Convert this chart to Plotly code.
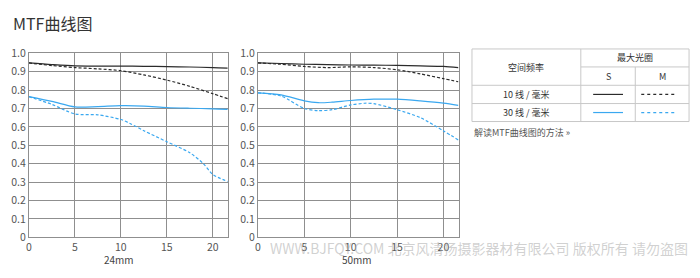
import plotly.graph_objects as go

W, H = 700, 278

# ---------------- data ----------------
x_24_s10 = [0, 2.5, 5, 7.5, 10, 12.5, 15, 17.5, 20, 21.6]
y_24_s10 = [0.947, 0.938, 0.931, 0.930, 0.930, 0.929, 0.927, 0.925, 0.922, 0.919]
x_24_m10 = [0, 2.5, 5, 7.5, 10, 12.5, 15, 17.5, 20, 21.6]
y_24_m10 = [0.947, 0.933, 0.922, 0.915, 0.905, 0.882, 0.854, 0.820, 0.780, 0.753]
x_24_s30 = [0, 2.5, 5, 7.5, 10, 12.5, 15, 17.5, 20, 21.6]
y_24_s30 = [0.764, 0.738, 0.708, 0.710, 0.715, 0.713, 0.705, 0.701, 0.698, 0.695]
x_24_m30 = [0, 2.5, 5, 7.5, 10, 11, 12.5, 15, 17.5, 19, 20, 21.6]
y_24_m30 = [0.764, 0.722, 0.670, 0.665, 0.640, 0.618, 0.579, 0.519, 0.459, 0.398, 0.341, 0.303]

x_50_s10 = [0, 2.5, 5, 7.5, 10, 12.5, 15, 17.5, 20, 21.6]
y_50_s10 = [0.947, 0.944, 0.940, 0.938, 0.936, 0.935, 0.934, 0.931, 0.928, 0.922]
x_50_m10 = [0, 2.5, 5, 7.5, 10, 12.5, 15, 17.5, 20, 21.6]
y_50_m10 = [0.947, 0.940, 0.928, 0.922, 0.926, 0.922, 0.910, 0.888, 0.862, 0.845]
x_50_s30 = [0, 2.5, 5, 6.5, 8, 10, 12.5, 15, 17.5, 20, 21.6]
y_50_s30 = [0.785, 0.774, 0.741, 0.731, 0.734, 0.743, 0.750, 0.750, 0.741, 0.729, 0.717]
x_50_m30 = [0, 2.5, 5, 6.5, 8, 10, 11.5, 12.5, 15, 17.5, 20, 21.6]
y_50_m30 = [0.785, 0.767, 0.700, 0.688, 0.693, 0.719, 0.728, 0.726, 0.693, 0.650, 0.578, 0.529]

x_ticks = [0, 5, 10, 15, 20]
y_ticks = [0, 0.1, 0.2, 0.3, 0.4, 0.5, 0.6, 0.7, 0.8, 0.9, 1.0]
y_tick_labels = ["0", "0.1", "0.2", "0.3", "0.4", "0.5", "0.6", "0.7", "0.8", "0.9", "1.0"]
panel_titles = ["24mm", "50mm"]

title_text = "MTF曲线图"
table_header_freq = "空间频率"
table_header_ap = "最大光圈"
table_cols = ["S", "M"]
table_rows = ["10 线 / 毫米", "30 线 / 毫米"]
link_text = "解读MTF曲线图的方法 »"
watermark = "WWW.BJFQY.COM 北京风清扬摄影器材有限公司 版权所有 请勿盗图"

BLACK = "#2b2b2b"
BLUE = "#3aa8f0"
FONT = "Noto Sans CJK SC, Open Sans, sans-serif"
DASH = "3px,2px"

def px(x):
    return x / W

def py(y):
    return 1 - y / H

fig = go.Figure()

series = [
    ("x", "y", x_24_s10, y_24_s10, BLACK, "solid"),
    ("x", "y", x_24_m10, y_24_m10, BLACK, DASH),
    ("x", "y", x_24_s30, y_24_s30, BLUE, "solid"),
    ("x", "y", x_24_m30, y_24_m30, BLUE, DASH),
    ("x2", "y2", x_50_s10, y_50_s10, BLACK, "solid"),
    ("x2", "y2", x_50_m10, y_50_m10, BLACK, DASH),
    ("x2", "y2", x_50_s30, y_50_s30, BLUE, "solid"),
    ("x2", "y2", x_50_m30, y_50_m30, BLUE, DASH),
]
for xa, ya, xs, ys, col, dash in series:
    fig.add_trace(go.Scatter(
        x=xs, y=ys, xaxis=xa, yaxis=ya, mode="lines",
        line=dict(color=col, width=1.2, dash=dash, shape="spline", smoothing=0.8),
        showlegend=False, hoverinfo="skip"))

ydom = [py(242.3), py(47.8)]
axis_common = dict(
    showgrid=True, gridcolor="#8f8f8f", gridwidth=1, zeroline=False,
    showline=True, linecolor="#8f8f8f", linewidth=1, mirror=True,
    ticks="", tickfont=dict(family=FONT, size=10.5, color="#555"),
)
fig.update_layout(
    width=W, height=H, margin=dict(l=0, r=0, t=0, b=0),
    paper_bgcolor="white", plot_bgcolor="white",
    xaxis=dict(domain=[px(26), px(226)], range=[0, 21.65], tickvals=x_ticks,
               anchor="y", **axis_common),
    yaxis=dict(domain=ydom, range=[0, 1.0], tickvals=y_ticks, ticktext=y_tick_labels,
               anchor="x", **axis_common),
    xaxis2=dict(domain=[px(256), px(457.7)], range=[0, 21.65], tickvals=x_ticks,
                anchor="y2", **axis_common),
    yaxis2=dict(domain=ydom, range=[0, 1.0], tickvals=y_ticks, ticktext=y_tick_labels,
                anchor="x2", **axis_common),
)

ann = []
ann.append(dict(text=title_text, x=px(8), y=py(16), xanchor="left", yanchor="middle",
                font=dict(family=FONT, size=16, color="#333")))
ann.append(dict(text=panel_titles[0], x=px(117), y=py(266), xanchor="center", yanchor="middle",
                font=dict(family=FONT, size=10, color="#444")))
ann.append(dict(text=panel_titles[1], x=px(356), y=py(266), xanchor="center", yanchor="middle",
                font=dict(family=FONT, size=10, color="#444")))
ann.append(dict(text=watermark, x=px(266), y=py(254), xanchor="left", yanchor="middle",
                font=dict(family=FONT, size=14, color="rgba(170,170,170,0.55)")))

# table
tx0, tx1 = 471, 689
ty = [43.3, 62.3, 81.7, 101, 120]
c1, c2 = 580.3, 635
tfont = dict(family=FONT, size=9, color="#333")
shapes = []
lc = "#c8c8c8"
def line(x0, y0, x1, y1, color=lc, width=1, dash="solid"):
    shapes.append(dict(type="line", xref="paper", yref="paper",
                       x0=px(x0), y0=py(y0), x1=px(x1), y1=py(y1),
                       line=dict(color=color, width=width, dash=dash)))
line(tx0, ty[0], tx1, ty[0])
line(tx0, ty[4], tx1, ty[4])
line(tx0, ty[0], tx0, ty[4])
line(tx1, ty[0], tx1, ty[4])
line(c1, ty[1], tx1, ty[1])
line(tx0, ty[2], tx1, ty[2])
line(tx0, ty[3], tx1, ty[3])
line(c1, ty[0], c1, ty[4])
line(c2, ty[1], c2, ty[4])

ann.append(dict(text=table_header_freq, x=px((tx0 + c1) / 2), y=py((ty[0] + ty[2]) / 2),
                xanchor="center", yanchor="middle", font=tfont))
ann.append(dict(text=table_header_ap, x=px((c1 + tx1) / 2), y=py((ty[0] + ty[1]) / 2),
                xanchor="center", yanchor="middle", font=tfont))
ann.append(dict(text=table_cols[0], x=px((c1 + c2) / 2), y=py((ty[1] + ty[2]) / 2),
                xanchor="center", yanchor="middle", font=tfont))
ann.append(dict(text=table_cols[1], x=px((c2 + tx1) / 2), y=py((ty[1] + ty[2]) / 2),
                xanchor="center", yanchor="middle", font=tfont))
for i, r in enumerate(table_rows):
    ann.append(dict(text=r, x=px((tx0 + c1) / 2), y=py((ty[2 + i] + ty[3 + i]) / 2),
                    xanchor="center", yanchor="middle", font=tfont))
for i, col in enumerate([BLACK, BLUE]):
    yy = (ty[2 + i] + ty[3 + i]) / 2
    line(592.7, yy, 622.7, yy, color=col, width=1.2)
    line(641, yy, 675, yy, color=col, width=1.2, dash="3px,3px")

ann.append(dict(text=link_text, x=px(471), y=py(132), xanchor="left", yanchor="middle",
                font=dict(family=FONT, size=9, color="#555")))

for a in ann:
    a.update(xref="paper", yref="paper", showarrow=False)
fig.update_layout(annotations=ann, shapes=shapes)

fig.write_html("out.html")
